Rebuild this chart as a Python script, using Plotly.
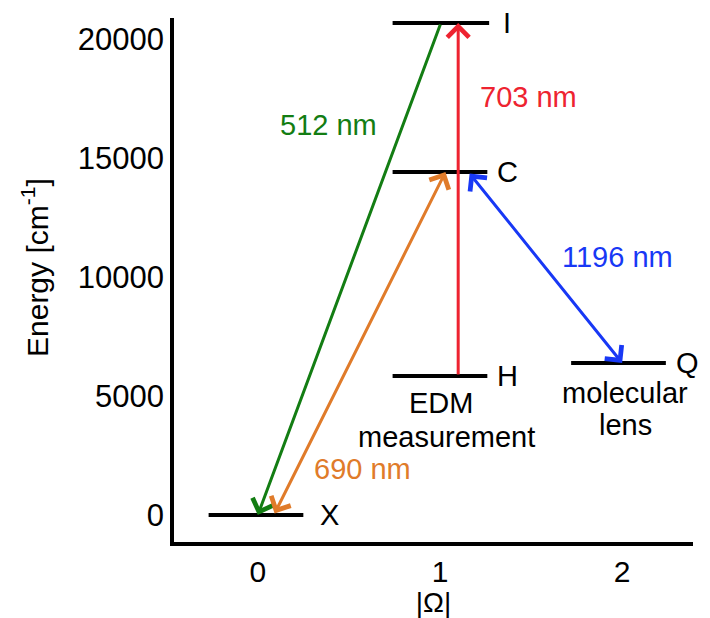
import plotly.graph_objects as go

# Energy levels
level_names = ["X", "H", "C", "I", "Q"]
level_omega = [0, 1, 1, 1, 2]
level_energy = [0, 5840, 14410, 20670, 6390]
level_left = [-0.27, -0.26, -0.26, -0.26, -0.28]
level_right = [0.25, 0.26, 0.26, 0.27, 0.24]
level_label_shift = [15, 8, 8, 12, 8]

# Transitions (tail omega, tail energy, head omega, head energy)
trans_labels = ["512 nm", "703 nm", "690 nm", "1196 nm"]
trans_colors = ["#137d13", "#ee2330", "#e07b2a", "#1838f5"]
trans_x0 = [1.005, 1.10, 0.088, 1.156]
trans_y0 = [20670, 5840, 0, 14410]
trans_x1 = [0.0, 1.10, 1.03, 2.0]
trans_y1 = [0, 20670, 14410, 6390]
trans_double = [False, False, True, True]
trans_label_x = [0.389, 1.485, 0.575, 1.973]
trans_label_y = [16390, 17560, 1930, 10840]

# Descriptions (one line each)
desc_text = ["EDM", "measurement", "molecular", "lens"]
desc_x = [1.003, 1.036, 2.016, 2.016]
desc_y = [4710, 3280, 5130, 3780]

x_ticks = [0, 1, 2]
x_ticktext = ["0", "1", "2"]
y_ticks = [0, 5000, 10000, 15000, 20000]
y_ticktext = ["0", "5000", "10000", "15000", "20000"]
x_title = "|Ω|"
y_title = "Energy [cm<sup>-1</sup>]"

FONT = "Liberation Sans, Arial, sans-serif"

fig = go.Figure()

for name, om, en, lft, rgt, sh in zip(level_names, level_omega, level_energy, level_left,
                                      level_right, level_label_shift):
    fig.add_trace(go.Scatter(x=[om + lft, om + rgt], y=[en, en], mode="lines",
                             line=dict(color="black", width=4), showlegend=False,
                             hoverinfo="skip"))
    fig.add_annotation(x=om + rgt, y=en, text=name, showarrow=False, xanchor="left",
                       xshift=sh, font=dict(size=29, color="black", family=FONT))

for lab, col, x0, y0, x1, y1, dbl, lx, ly in zip(trans_labels, trans_colors, trans_x0, trans_y0,
                                                  trans_x1, trans_y1, trans_double,
                                                  trans_label_x, trans_label_y):
    fig.add_annotation(x=x1, y=y1, ax=x0, ay=y0, xref="x", yref="y", axref="x", ayref="y",
                       text="", showarrow=True, arrowhead=4, startarrowhead=4,
                       arrowside="end+start" if dbl else "end",
                       arrowsize=1.4, startarrowsize=1.4, arrowwidth=3, arrowcolor=col)
    fig.add_annotation(x=lx, y=ly, text=lab, showarrow=False,
                       font=dict(size=29, color=col, family=FONT))

for t, dx, dy in zip(desc_text, desc_x, desc_y):
    fig.add_annotation(x=dx, y=dy, text=t, showarrow=False,
                       font=dict(size=29, color="black", family=FONT))

# y-axis title as a rotated annotation (placed slightly above the plot centre as in the original)
fig.add_annotation(x=0, y=0.5, xref="paper", yref="paper", text=y_title, showarrow=False,
                   textangle=-90, xanchor="center", yanchor="middle", xshift=-139, yshift=12,
                   font=dict(size=30, color="black", family=FONT))

fig.update_layout(
    width=710, height=618,
    margin=dict(l=174, r=17, t=18, b=76),
    paper_bgcolor="white", plot_bgcolor="white",
    font=dict(family=FONT, size=30, color="black"),
    xaxis=dict(range=[-0.46, 2.389], tickvals=x_ticks, ticktext=x_ticktext,
               showgrid=False, zeroline=False,
               showline=True, linecolor="black", linewidth=3.5, ticks="",
               title=dict(text=x_title, font=dict(size=28), standoff=9),
               tickfont=dict(size=30), automargin=False),
    yaxis=dict(range=[-1134, 20882], tickvals=y_ticks, ticktext=y_ticktext,
               showgrid=False, zeroline=False,
               showline=True, linecolor="black", linewidth=3.5, ticks="",
               tickfont=dict(size=31), automargin=False),
)

fig.write_html("out.html", config={"displayModeBar": False},
               post_script="document.body.style.margin='0px';document.body.style.overflow='hidden';")
